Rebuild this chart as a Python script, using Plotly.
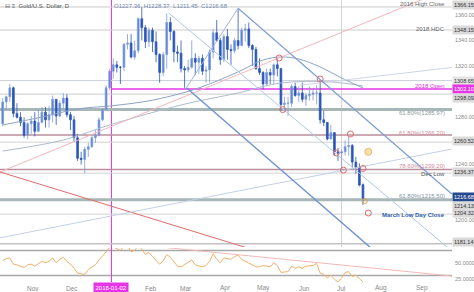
import plotly.graph_objects as go
import pandas as pd

# ---------------- data ----------------
bar_dates = pd.bdate_range("2017-10-09", periods=102, freq="2B")
opens = [1275,1292,1296,1303,1283,1280,1276,1266,1275,1277,
         1269,1276,1284,1278,1282,1294,1281,1291,1295,1282,
         1278,1264,1248,1247,1255,1257,1264,1266,1278,1286,
         1303,1316,1321,1319,1319,1337,1338,1327,1332,1357,
         1350,1339,1348,1339,1329,1315,1329,1354,1347,1331,
         1330,1318,1317,1319,1326,1323,1326,1316,1317,1331,
         1346,1340,1325,1343,1333,1332,1340,1336,1348,1349,
         1336,1333,1318,1315,1306,1315,1313,1321,1318,1290,
         1291,1291,1304,1297,1299,1294,1297,1298,1299,1299,
         1278,1276,1263,1268,1253,1252,1253,1257,1258,1245,
         1241,1227.36]
highs = [1295,1297,1306,1304,1291,1284,1280,1276,1281,1284,
         1286,1288,1288,1289,1297,1294,1293,1299,1298,1284,
         1281,1267,1253,1257,1260,1266,1270,1280,1287,1305,
         1318,1326,1324,1320,1338,1345,1345,1340,1358,1366,
         1352,1350,1350,1347,1330,1331,1361,1358,1348,1336,
         1340,1320,1325,1340,1330,1328,1329,1320,1333,1349,
         1356,1342,1345,1349,1337,1342,1365,1350,1353,1354,
         1337,1335,1326,1316,1318,1318,1322,1326,1318,1296,
         1296,1306,1307,1304,1307,1299,1304,1303,1305,1309,
         1285,1276,1274,1268,1256,1255,1262,1265,1259,1249,
         1244,1228.37]
lows = [1273,1286,1292,1280,1279,1273,1264,1263,1267,1265,
        1269,1276,1272,1272,1276,1274,1280,1286,1280,1270,
        1261,1246,1243,1236,1249,1256,1260,1265,1277,1285,
        1301,1310,1315,1306,1316,1333,1326,1325,1330,1340,
        1334,1335,1331,1323,1307,1312,1318,1340,1323,1323,
        1315,1303,1315,1318,1313,1314,1313,1307,1307,1326,
        1339,1321,1323,1325,1321,1330,1333,1336,1339,1334,
        1320,1317,1313,1302,1305,1306,1306,1312,1285,1284,
        1281,1288,1296,1292,1292,1289,1293,1293,1290,1275,
        1273,1262,1263,1250,1246,1237,1250,1250,1241,1236,
        1226,1211.45]
closes = [1292,1296,1303,1283,1280,1276,1266,1275,1277,1269,
          1276,1284,1278,1282,1294,1281,1291,1295,1282,1278,
          1264,1248,1247,1255,1257,1264,1266,1278,1286,1303,
          1316,1321,1319,1319,1337,1338,1327,1332,1357,1350,
          1339,1348,1339,1329,1315,1329,1354,1347,1331,1330,
          1318,1317,1319,1326,1323,1326,1316,1317,1331,1346,
          1340,1325,1343,1333,1332,1340,1336,1348,1349,1336,
          1333,1318,1315,1306,1315,1313,1321,1318,1290,1291,
          1291,1304,1297,1299,1294,1297,1298,1299,1299,1278,
          1276,1263,1268,1253,1252,1253,1257,1258,1245,1241,
          1227,1216.68]
rsi = [53.7,57.0,58.1,48.2,47.1,44.9,42.7,47.1,48.2,44.9,
       49.3,52.6,50.4,52.6,58.1,50.4,55.9,59.2,52.6,48.2,
       41.6,33.9,32.8,31.7,39.4,43.8,47.1,54.8,61.4,68.0,
       74.6,75.7,73.5,70.2,76.8,78.9,68.0,70.2,77.9,72.4,
       63.6,66.9,60.3,53.7,48.0,53.7,63.6,59.2,51.5,44.9,
       43.8,47.1,50.4,54.8,47.1,46.0,43.8,46.0,52.6,64.7,
       55.9,50.4,58.1,57.0,55.9,60.3,62.5,55.9,52.6,49.3,
       47.1,43.8,43.8,46.0,44.9,43.8,50.4,46.0,35.0,36.1,
       36.1,44.9,41.6,43.8,41.6,44.9,46.0,46.0,49.3,33.9,
       31.7,26.2,30.6,24.0,19.7,26.2,35.0,36.1,28.4,30.6,
       25.1,19.7]

fast_ma_dates = ["2017-10-09","2017-11-08","2017-12-06","2018-01-01","2018-01-25","2018-02-14",
                 "2018-03-12","2018-04-11","2018-05-01","2018-05-15","2018-05-29","2018-06-14",
                 "2018-07-02","2018-07-18"]
fast_ma = [1274.0,1280.2,1286.5,1288.8,1291.9,1295.8,1302.9,1315.4,1324.7,1327.1,1325.5,1319.3,1310.7,1302.9]
slow_ma_dates = ["2017-10-09","2017-11-24","2018-01-01","2018-02-26","2018-04-11","2018-05-15","2018-06-22","2018-07-18"]
slow_ma = [1253.6,1262.2,1274.0,1289.6,1299.0,1306.8,1307.6,1304.4]

# trendlines: (start date, start price, end date, end price)
pink_trend = ["2017-10-05 12:00", 1237.25, "2018-09-25 20:00", 1381.5]
red_trend = ["2017-10-05 12:00", 1237.25, "2018-04-27", 1175.0]
upper_channel = ["2018-04-11", 1365.2, "2018-09-25 20:00", 1220.1]
lower_channel = ["2018-03-01", 1303.0, "2018-08-01", 1171.2]
feb_line = ["2018-02-15", 1361.5, "2018-09-25", 1176.5]
pitch_line = ["2018-03-01", 1303.0, "2018-04-11", 1365.2]
long_rise = ["2017-10-05 12:00", 1185.8, "2018-09-25 20:00", 1255.2]
short_rise = ["2018-05-29 14:00", 1305.0, "2018-09-25 20:00", 1318.9]
rsi_trend = ["2018-01-24", 78.8, "2018-09-25 20:00", 29.2]

pivot_dates = ["2018-05-14","2018-06-14","2018-05-16","2018-06-27","2018-07-03","2018-07-09","2018-07-18","2018-07-23"]
pivot_prices = [1326.3,1309.9,1286.0,1252.1,1238.7,1266.9,1240.0,1205.2]
marker_dates = ["2018-07-19"]
marker_prices = [1214.6]
target_dates = ["2018-07-23"]
target_prices = [1253.0]

level_values = [1366.15,1348.15,1308.65,1302.10,1298.09,1285.97,1266.20,1260.52,1239.20,1236.37,1215.50,1204.32,1181.14]
level_colors = ["#cbcbcb","#cbcbcb","#c9d0da","#e535e5","#cbcbcb","#a7b6b6","#bb8e9a","#d2d2d2","#bb8e9a","#d2d2d2","#a7b6b6","#d2d2d2","#c2c2c2"]
level_widths = [1,1,1,1.5,1,3,1.5,1,1.5,1,3,1,1.5]

axis_label_values = [1366.15,1348.15,1308.65,1302.10,1298.09,1260.52,1236.37,1216.68,1214.13,1204.32,1181.14]
axis_label_bg = ["#d9d9d9","#d9d9d9","#e3e3e3","#e535e5","#d9d9d9","#d9d9d9","#d9d9d9","#24498f","#d9d9d9","#d9d9d9","#d9d9d9"]
axis_label_fg = ["#333","#333","#333","#fff","#333","#333","#333","#fff","#333","#333","#333"]
axis_label_shift = [2,0,0,0,-4,1,1,1,-4,1,2]
price_ticks = [1360,1340,1320,1280,1240,1200]
price_tick_shift = [0,0,0,0,4,0]
rsi_ticks = [75,50,25]

month_dates = ["2017-11-01","2017-12-01","2018-02-01","2018-03-01","2018-04-02","2018-05-01",
               "2018-06-01","2018-07-02","2018-08-01","2018-09-03"]
month_labels = ["Nov","Dec","Feb","Mar","Apr","May","Jun","Jul","Aug","Sep"]

fib_texts = ["2016 High Close","2018 HDC","2018 Open","61.80%(1285.97)","61.80%(1266.20)",
             "78.60%(1239.20)","Dec Low","61.80%(1215.50)","<b>March Low Day Close</b>"]
fib_prices = [1366.15,1348.15,1302.10,1285.97,1266.20,1239.20,1236.37,1215.50,1204.32]
fib_colors = ["#666","#666","#e030e0","#8d9c9c","#d08c9c","#d08c9c","#555","#7d91a6","#2f5ea8"]
fib_shift = [2.5,1,3,-3,2,3,-1,4,-1]

# ---------------- figure ----------------
FONT = "Liberation Sans"
W, H = 474, 292
fig = go.Figure()

def seg(d, **kw):
    return go.Scatter(x=[d[0], d[2]], y=[d[1], d[3]], mode="lines", hoverinfo="skip",
                      showlegend=False, **kw)

fig.add_trace(go.Scatter(x=slow_ma_dates, y=slow_ma, mode="lines", line=dict(color="#aebdd0", width=1, shape="spline"), showlegend=False))
fig.add_trace(go.Scatter(x=fast_ma_dates, y=fast_ma, mode="lines", line=dict(color="#8ea3c6", width=1, shape="spline"), showlegend=False))
fig.add_trace(seg(pink_trend, line=dict(color="#f1b7bd", width=1)))
fig.add_trace(seg(red_trend, line=dict(color="#e06b6b", width=1)))
fig.add_trace(seg(long_rise, line=dict(color="#c3d0e6", width=1)))
fig.add_trace(seg(short_rise, line=dict(color="#cdd7e8", width=1)))
fig.add_trace(seg(upper_channel, line=dict(color="#7f9fd3", width=1.2)))
fig.add_trace(seg(lower_channel, line=dict(color="#6f93d0", width=1.4)))
fig.add_trace(seg(feb_line, line=dict(color="#b3c6e6", width=1)))
fig.add_trace(seg(pitch_line, line=dict(color="#9fb6de", width=1)))

fig.add_trace(go.Candlestick(
    x=bar_dates, open=opens, high=highs, low=lows, close=closes,
    increasing=dict(line=dict(color="#7d9bd8", width=0.8), fillcolor="#5583dc"),
    decreasing=dict(line=dict(color="#2b56b8", width=0.8), fillcolor="#2b56b8"),
    whiskerwidth=0, showlegend=False))

fig.add_trace(go.Scatter(x=pivot_dates, y=pivot_prices, mode="markers",
                         marker=dict(symbol="circle-open", size=6, color="#e06a6a", line=dict(width=1)), showlegend=False))
fig.add_trace(go.Scatter(x=marker_dates, y=marker_prices, mode="markers",
                         marker=dict(symbol="circle-open", size=5, color="#e0a050", line=dict(width=1)), showlegend=False))
fig.add_trace(go.Scatter(x=target_dates, y=target_prices, mode="markers",
                         marker=dict(symbol="circle", size=7, color="#fbe0b0", line=dict(width=1, color="#f0b860")), showlegend=False))

# RSI
fig.add_trace(go.Scatter(x=bar_dates, y=rsi, yaxis="y2", mode="lines",
                         line=dict(color="#f2b06a", width=1), showlegend=False))
fig.add_trace(go.Scatter(x=[rsi_trend[0], rsi_trend[2]], y=[rsi_trend[1], rsi_trend[3]], yaxis="y2",
                         mode="lines", line=dict(color="#f2b8b8", width=1), showlegend=False))

shapes = []
for v, c, w in zip(level_values, level_colors, level_widths):
    x0 = "2018-01-02" if v == 1302.10 else "2017-10-05 12:00"
    shapes.append(dict(type="line", xref="x", x0=x0, x1="2018-09-25 22:00", yref="y", y0=v, y1=v,
                       line=dict(color=c, width=w), layer="below"))
for v in (70, 30):
    shapes.append(dict(type="line", xref="paper", x0=0, x1=1, yref="y2", y0=v, y1=v,
                       line=dict(color="#a8a8a8", width=1.5), layer="below"))
shapes.append(dict(type="line", xref="x", x0="2018-07-02", x1="2018-07-02", yref="paper",
                   y0=45/H, y1=1, line=dict(color="#d3d3d3", width=1), layer="below"))
shapes.append(dict(type="line", xref="x", x0="2018-01-02", x1="2018-01-02", yref="paper",
                   y0=10/H, y1=1, line=dict(color="#e535e5", width=1), layer="below"))

ann = []
small = dict(family=FONT, size=6)
axf = dict(family=FONT, size=5.5)
for t, sh in zip(price_ticks, price_tick_shift):
    ann.append(dict(x=1, xref="paper", xanchor="left", xshift=1, y=t, yref="y", yshift=sh,
                    text=f"{t:.2f}", showarrow=False, font=dict(axf, color="#8a8a8a")))
for t in rsi_ticks:
    ann.append(dict(x=1, xref="paper", xanchor="left", xshift=1, y=t, yref="y2", text=f"{t:.4f}",
                    showarrow=False, font=dict(axf, color="#8a8a8a")))
for v, bg, fg, sh in zip(axis_label_values, axis_label_bg, axis_label_fg, axis_label_shift):
    ann.append(dict(x=1, xref="paper", xanchor="left", xshift=0, y=v, yref="y", yshift=sh,
                    text=f"{v:.2f}", showarrow=False, bgcolor=bg, borderpad=1,
                    font=dict(axf, color=fg)))
for t, p, c, sh in zip(fib_texts, fib_prices, fib_colors, fib_shift):
    ann.append(dict(x=447/452, xref="paper", xanchor="right", y=p, yref="y", yshift=sh,
                    text=t, showarrow=False, font=dict(small, color=c)))
for d, m in zip(month_dates, month_labels):
    ann.append(dict(x=d, xref="x", y=4/H, yref="paper", yanchor="middle", text=m,
                    showarrow=False, font=dict(family=FONT, size=6.5, color="#8a8a8a")))
ann.append(dict(x="2018-01-02", xref="x", y=5/H, yref="paper", yanchor="middle", text="2018-01-02",
                showarrow=False, bgcolor="#e535e5", borderpad=1.5, font=dict(small, color="#ffffff")))
ann.append(dict(x=3/452, xref="paper", xanchor="left", y=1 - 6/H, yref="paper", yanchor="middle",
                text="\u229f \u2261  Gold/U.S. Dollar, D", showarrow=False, font=dict(small, color="#555")))
ann.append(dict(x=112/452, xref="paper", xanchor="left", y=1 - 6/H, yref="paper", yanchor="middle",
                text="O1227.36  H1228.37  L1211.45  C1216.68", showarrow=False,
                font=dict(small, color="#7088b0")))

fig.update_layout(
    width=W, height=H, margin=dict(l=0, r=22, t=0, b=0),
    paper_bgcolor="white", plot_bgcolor="white", showlegend=False,
    font=dict(family=FONT, size=6),
    xaxis=dict(type="date", range=["2017-10-05 12:00", "2018-09-25 22:00"],
               rangebreaks=[dict(bounds=["sat", "mon"])], rangeslider=dict(visible=False),
               showticklabels=False, showgrid=False, zeroline=False, showline=False, ticks=""),
    yaxis=dict(domain=[45/H, 1], range=[1178.65, 1371.6], showticklabels=False, showgrid=False,
               zeroline=False, showline=False, ticks=""),
    yaxis2=dict(domain=[9/H, 44/H], range=[18.05, 73.96], anchor="x", showticklabels=False,
                showgrid=False, zeroline=False, showline=False, ticks=""),
    shapes=shapes, annotations=ann,
)

fig.write_html("out.html")
